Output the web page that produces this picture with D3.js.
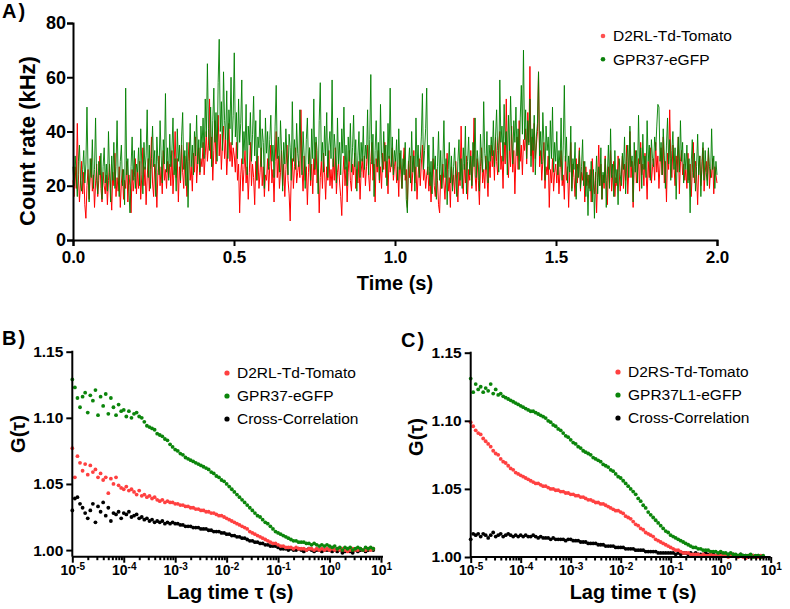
<!DOCTYPE html>
<html><head><meta charset="utf-8">
<script src="https://cdn.jsdelivr.net/npm/d3@7"></script>
<style>
body{margin:0;background:#fff;}
svg{display:block;font-family:"Liberation Sans",Arial,sans-serif;}
.axis path,.axis line{stroke:#000;stroke-width:2;}
.axis text{fill:#000;font-weight:bold;font-family:"Liberation Sans",Arial,sans-serif;}
</style></head>
<body>
<script>
// ---------- Panel A: count-rate traces (kHz), 600 samples over 0..2 s ----------
const traceTicksX = [0, 0.5, 1.0, 1.5, 2.0];
const traceTicksY = [0, 20, 40, 60, 80];
const traceSeriesNames = ["D2RL-Td-Tomato", "GPR37-eGFP"];
const gprTrace = [
27,20,31,24,16,29,35,22,18,26,33,21,28,49,25,14,30,23,37,19,26,45,22,17,29,24,32,15,27,34,
21,28,18,40,25,14,31,22,36,19,27,44,23,16,29,35,20,26,13,56,24,30,18,10,27,38,22,33,19,28,
25,34,20,41,28,17,36,26,31,48,23,35,19,30,42,27,33,16,38,29,24,44,31,21,37,28,54,25,34,22,
39,27,33,45,24,30,18,41,29,35,22,38,47,26,33,20,36,12,30,43,27,35,24,40,31,46,28,37,25,42,
34,45,30,52,38,65,41,33,49,27,44,56,36,47,29,58,74,40,51,33,62,44,37,55,30,48,41,60,35,46,
69,38,47,30,52,36,43,59,28,40,33,50,24,42,35,47,29,39,53,31,44,22,38,34,48,27,41,36,19,45,
32,40,26,37,46,29,35,23,42,57,30,38,25,44,33,18,36,28,41,31,24,39,34,22,51,29,37,26,43,32,
27,48,35,24,40,31,19,37,45,28,34,22,41,30,52,26,38,33,17,44,58,29,36,25,42,31,47,23,35,40,
30,59,27,39,33,21,45,28,36,24,41,32,49,26,35,20,38,29,43,25,34,46,27,37,18,31,40,23,36,29,
42,26,35,30,48,24,37,61,28,39,16,33,44,27,36,22,50,31,25,40,29,35,20,43,30,56,27,38,24,33,
29,37,22,41,26,33,19,30,24,36,15,10,28,34,21,40,25,31,18,45,27,35,23,30,38,54,26,33,41,56,
24,35,20,29,17,38,26,31,15,27,40,22,33,19,28,44,23,30,13,26,36,21,31,18,27,34,24,16,29,37,
22,30,19,34,26,42,17,29,38,24,31,20,36,27,45,23,33,28,18,39,30,25,51,32,26,40,21,35,29,38,
31,44,27,38,48,33,25,59,36,42,29,50,35,40,24,46,33,53,38,28,44,36,49,31,41,26,45,57,39,70,
37,48,30,44,35,52,27,41,33,46,24,38,43,62,31,40,28,47,36,22,42,33,38,26,44,30,49,25,36,29,
40,24,33,27,45,22,35,57,29,38,21,31,25,42,18,30,26,36,15,28,23,33,19,27,37,20,29,16,25,9,
24,18,29,14,26,8,22,31,17,27,20,34,15,25,21,30,12,24,35,19,41,23,28,16,33,21,26,13,30,24,
20,32,26,38,17,29,35,23,42,27,31,14,36,25,33,21,46,28,34,19,39,26,31,23,44,29,35,22,37,30,
27,38,33,42,50,49,29,36,24,41,31,19,35,45,28,37,22,33,40,26,34,15,30,38,25,44,29,36,21,32,
26,35,21,30,10,28,37,23,32,18,27,39,24,31,16,29,36,22,33,25,20,34,27,23,41,26,31,19,29,24];
const d2rTrace = [
22,16,27,19,43,24,14,21,29,17,25,13,8,20,26,15,23,30,18,24,12,21,28,16,22,31,19,14,25,20,
17,24,13,22,28,19,11,25,20,32,16,23,18,27,12,21,26,15,22,19,29,14,24,20,10,26,18,23,30,17,
25,19,29,15,24,34,20,27,13,23,30,18,26,38,21,16,28,24,12,25,31,20,27,17,33,22,26,19,29,23,
28,20,33,17,26,40,23,30,14,27,21,35,25,19,31,24,16,29,36,22,27,18,32,25,38,21,28,34,24,30,
27,36,24,31,40,29,35,52,30,38,22,33,44,28,36,46,31,39,26,35,42,30,37,24,33,43,29,36,27,34,
31,25,36,22,28,10,24,30,18,26,33,21,27,15,25,36,20,28,23,13,29,22,31,19,25,34,20,27,16,24,
22,30,18,27,35,21,26,14,29,40,23,31,19,25,33,20,28,16,26,35,22,17,7,24,30,19,27,34,21,25,
29,23,48,26,18,31,22,27,13,25,34,20,28,17,30,24,36,21,26,10,23,29,19,32,25,15,27,22,33,20,
26,19,30,22,34,17,25,28,21,16,9,24,31,20,27,14,25,33,22,18,28,24,32,19,26,21,29,15,25,30,
23,31,20,27,35,24,18,29,36,22,28,14,30,25,33,21,27,19,32,26,36,23,29,17,31,25,28,34,22,27,
30,21,27,16,32,24,19,28,34,22,26,12,29,23,31,18,25,33,21,27,15,24,30,20,28,35,22,26,19,24,
27,18,25,14,23,30,20,16,26,22,13,10,24,19,28,21,15,25,32,18,23,12,27,20,24,17,29,21,14,25,
20,42,23,17,28,21,31,15,26,22,33,19,27,45,24,18,30,22,13,27,34,21,26,19,31,24,16,29,23,35,
27,33,22,38,29,24,35,40,26,31,19,36,28,52,30,23,34,27,42,25,33,17,31,38,26,44,29,35,24,37,
33,41,28,47,36,64,31,38,25,43,30,35,40,62,27,33,22,29,36,19,27,24,31,12,26,21,30,18,25,28,
21,29,17,26,33,20,24,15,31,22,27,12,25,36,19,28,23,16,30,21,26,34,18,25,22,29,14,27,20,24,
19,26,14,30,21,17,25,10,23,35,20,28,15,24,19,31,22,13,27,21,33,18,24,29,16,23,20,31,25,18,
24,31,19,28,22,35,17,26,40,23,29,12,27,33,21,25,30,18,36,24,28,20,32,26,15,29,23,34,21,27,
30,22,36,25,31,19,28,34,24,38,21,29,14,32,26,48,30,23,35,27,20,31,25,38,17,29,33,24,28,22,
26,19,32,22,28,16,25,36,21,29,24,13,27,31,20,26,34,18,25,29,22,33,19,26,23,30,17,27,24,21];
const traceTimes = d3.range(gprTrace.length).map(i => i * 2 / (gprTrace.length - 1));

// ---------- Panels B, C: correlation curves G(tau) ----------
// lag times: log10(tau) from -5 to 0.85 in 0.05 steps (118 points)
const lagExponents = d3.range(118).map(i => -5 + 0.05 * i);
const lagTimes = lagExponents.map(e => Math.pow(10, e));
const corrTicksY = [1.00, 1.05, 1.10, 1.15];
const corrTicksX = [1e-5, 1e-4, 1e-3, 1e-2, 1e-1, 1e0, 1e1];

const namesB = ["D2RL-Td-Tomato", "GPR37-eGFP", "Cross-Correlation"];
const namesC = ["D2RS-Td-Tomato", "GPR37L1-eGFP", "Cross-Correlation"];

const greenB = [
1.129,1.123,1.115,1.108,1.116,1.119,1.104,1.117,1.113,1.121,1.102,1.116,1.109,1.118,1.103,1.115,1.108,1.102,1.110,1.105,
1.106,1.101,1.105,1.100,1.103,1.104,1.101,1.100,1.097,1.094,1.093,1.092,1.091,1.088,1.087,1.086,1.084,1.083,1.080,1.078,
1.076,1.075,1.073,1.072,1.070,1.069,1.068,1.067,1.066,1.065,1.064,1.063,1.062,1.061,1.059,1.058,1.056,1.055,1.053,1.052,
1.050,1.048,1.046,1.044,1.042,1.040,1.038,1.036,1.034,1.032,1.030,1.028,1.026,1.025,1.023,1.021,1.020,1.018,1.016,1.014,
1.013,1.012,1.011,1.010,1.009,1.008,1.007,1.007,1.006,1.006,1.006,1.005,1.005,1.004,1.005,1.004,1.003,1.004,1.003,1.004,
1.003,1.002,1.003,1.001,1.002,1.000,1.002,1.001,1.002,1.000,1.001,1.002,1.001,1.000,1.002,1.001,1.002,1.001];
const redB = [
1.077,1.055,1.071,1.066,1.060,1.065,1.057,1.064,1.059,1.061,1.055,1.058,1.053,1.055,1.043,1.054,1.050,1.055,1.049,1.047,
1.046,1.048,1.045,1.046,1.044,1.042,1.045,1.041,1.042,1.040,1.041,1.039,1.040,1.038,1.037,1.038,1.036,1.037,1.036,1.036,
1.035,1.035,1.034,1.034,1.033,1.033,1.032,1.032,1.031,1.031,1.030,1.030,1.029,1.029,1.028,1.028,1.027,1.026,1.026,1.025,
1.024,1.023,1.022,1.021,1.020,1.019,1.018,1.017,1.016,1.014,1.013,1.012,1.011,1.010,1.009,1.008,1.007,1.006,1.005,1.005,
1.004,1.003,1.003,1.002,1.002,1.002,1.001,1.002,1.001,1.001,1.001,1.000,1.001,1.001,1.000,1.001,1.000,1.001,1.000,1.001,
1.000,1.001,1.000,1.001,1.000,1.001,1.000,0.999,1.000,1.001,1.000,1.000,1.001,1.000,1.000,1.001,1.000,1.001];
const crossB = [
1.030,1.039,1.040,1.035,1.032,1.028,1.024,1.030,1.035,1.021,1.033,1.029,1.036,1.026,1.032,1.022,1.028,1.027,1.029,1.024,
1.028,1.027,1.029,1.025,1.026,1.027,1.024,1.025,1.023,1.024,1.022,1.023,1.021,1.022,1.021,1.022,1.020,1.021,1.020,1.021,
1.020,1.020,1.019,1.019,1.018,1.018,1.018,1.017,1.017,1.017,1.016,1.016,1.016,1.015,1.015,1.014,1.014,1.014,1.013,1.013,
1.012,1.012,1.011,1.011,1.010,1.010,1.009,1.009,1.008,1.007,1.007,1.006,1.006,1.005,1.005,1.004,1.004,1.003,1.003,1.003,
1.002,1.001,1.001,1.001,1.000,1.001,1.000,1.000,1.001,1.000,0.999,1.000,1.001,1.000,0.999,1.000,1.000,0.999,1.000,1.000,
1.000,0.999,1.000,0.999,1.000,0.998,0.999,1.000,0.999,0.998,1.000,0.999,1.000,1.000,0.999,1.000,1.001,1.000];

const greenC = [
1.131,1.121,1.127,1.123,1.125,1.121,1.124,1.122,1.127,1.120,1.123,1.119,1.120,1.118,1.117,1.116,1.115,1.114,1.113,1.112,
1.111,1.110,1.109,1.108,1.107,1.107,1.106,1.105,1.104,1.103,1.102,1.100,1.099,1.097,1.096,1.094,1.093,1.091,1.089,1.088,
1.086,1.084,1.083,1.081,1.080,1.078,1.077,1.076,1.075,1.073,1.072,1.071,1.070,1.068,1.067,1.066,1.064,1.063,1.061,1.059,
1.058,1.056,1.054,1.052,1.050,1.048,1.046,1.043,1.041,1.038,1.036,1.033,1.031,1.029,1.027,1.025,1.023,1.021,1.019,1.018,
1.016,1.015,1.014,1.013,1.012,1.011,1.010,1.009,1.008,1.007,1.007,1.006,1.006,1.005,1.005,1.005,1.004,1.004,1.004,1.003,
1.004,1.003,1.003,1.002,1.003,1.002,1.002,1.001,1.002,1.001,1.001,1.001,1.002,1.000,1.001,1.001,1.000,1.001];
const redC = [
1.099,1.096,1.093,1.091,1.090,1.087,1.085,1.083,1.081,1.078,1.076,1.075,1.072,1.070,1.069,1.067,1.065,1.064,1.062,1.061,
1.060,1.059,1.058,1.057,1.056,1.055,1.054,1.054,1.053,1.052,1.052,1.051,1.050,1.050,1.049,1.049,1.048,1.048,1.047,1.047,
1.046,1.046,1.045,1.045,1.044,1.044,1.043,1.042,1.042,1.041,1.040,1.040,1.039,1.039,1.038,1.037,1.036,1.035,1.034,1.034,
1.033,1.032,1.030,1.029,1.028,1.026,1.024,1.023,1.021,1.020,1.018,1.017,1.016,1.015,1.013,1.012,1.011,1.010,1.009,1.008,
1.007,1.006,1.005,1.005,1.004,1.003,1.003,1.003,1.002,1.002,1.002,1.002,1.001,1.002,1.001,1.001,1.002,1.001,1.001,1.002,
1.001,1.002,1.001,1.000,1.001,1.002,1.001,1.000,1.001,1.000,0.999,1.001,1.000,1.001,1.000,1.000,1.001,1.000];
const crossC = [
1.013,1.017,1.016,1.017,1.015,1.017,1.016,1.014,1.016,1.018,1.015,1.016,1.017,1.015,1.016,1.017,1.016,1.015,1.016,1.015,
1.016,1.015,1.016,1.015,1.015,1.016,1.015,1.014,1.015,1.014,1.014,1.014,1.013,1.014,1.013,1.013,1.013,1.013,1.012,1.013,
1.013,1.012,1.012,1.012,1.011,1.011,1.011,1.010,1.010,1.010,1.010,1.009,1.009,1.009,1.008,1.008,1.008,1.008,1.007,1.007,
1.007,1.007,1.006,1.006,1.006,1.006,1.005,1.005,1.005,1.005,1.004,1.004,1.004,1.004,1.004,1.003,1.003,1.003,1.003,1.003,
1.003,1.003,1.002,1.003,1.002,1.003,1.003,1.002,1.003,1.002,1.003,1.002,1.002,1.002,1.003,1.002,1.002,1.002,1.001,1.002,
1.002,1.001,1.002,1.002,1.001,1.002,1.001,1.001,1.002,1.001,1.001,1.000,1.001,1.001,1.000,1.001,1.000,1.000];

const RED_LINE = "#ff0000", GREEN_LINE = "#008000";
const RED_DOT = "#ff4040", GREEN_DOT = "#0b850b", BLACK_DOT = "#000000";

// ---------- drawing ----------
const svg = d3.select("body").append("svg").attr("width", 790).attr("height", 609);
svg.append("rect").attr("width", 790).attr("height", 609).attr("fill", "#fff");

function panelLabel(txt, x, y) {
  svg.append("text").attr("x", x).attr("y", y).text(txt)
    .attr("font-size", 20).attr("font-weight", "bold").attr("letter-spacing", 2);
}

// Panel A
const xA = d3.scaleLinear().domain([0, 2]).range([73, 717]);
const yA = d3.scaleLinear().domain([0, 80]).range([240, 23]);
const lineA = d3.line().x((d, i) => xA(traceTimes[i])).y(d => yA(d));
svg.append("path").datum(d2rTrace).attr("d", lineA).attr("fill", "none")
  .attr("stroke", RED_LINE).attr("stroke-width", 1).attr("stroke-linejoin", "bevel");
svg.append("path").datum(gprTrace).attr("d", lineA).attr("fill", "none")
  .attr("stroke", GREEN_LINE).attr("stroke-width", 1).attr("stroke-linejoin", "bevel").attr("stroke-opacity", 0.9);

const axA_x = svg.append("g").attr("class", "axis").attr("transform", "translate(0,240)")
  .call(d3.axisBottom(xA).tickValues(traceTicksX).tickFormat(d3.format(".1f")).tickSizeOuter(0).tickSize(6).tickPadding(5));
axA_x.selectAll("text").attr("font-size", 17);
const axA_y = svg.append("g").attr("class", "axis").attr("transform", "translate(73,0)")
  .call(d3.axisLeft(yA).tickValues(traceTicksY).tickSizeOuter(0).tickSize(6).tickPadding(1));
axA_y.selectAll("text").attr("font-size", 18);

svg.append("text").attr("transform", "translate(35,141) rotate(-90)").attr("text-anchor", "middle")
  .attr("font-size", 22).attr("font-weight", "bold").text("Count rate (kHz)");
svg.append("text").attr("x", 395).attr("y", 290).attr("text-anchor", "middle")
  .attr("font-size", 20).attr("font-weight", "bold").text("Time (s)");
panelLabel("A)", 2, 18);

const legA = [[traceSeriesNames[0], "#ff5050"], [traceSeriesNames[1], "#0a800a"]];
legA.forEach((d, i) => {
  const y = 36 + i * 23.3;
  svg.append("circle").attr("cx", 603).attr("cy", y).attr("r", 2.3).attr("fill", d[1]);
  svg.append("text").attr("x", 613).attr("y", y).attr("dy", "0.35em").attr("font-size", 15.5).text(d[0]);
});

// Correlation panels
function corrPanel(opt) {
  const x = d3.scaleLog().domain([1e-5, 10]).range([opt.x0, opt.x1]);
  const y = d3.scaleLinear().domain(opt.ydom).range([opt.yb, opt.yt]);
  const series = [[opt.red, RED_DOT], [opt.green, GREEN_DOT], [opt.cross, BLACK_DOT]];
  [series[2], series[0], series[1]].forEach(s => {
    svg.append("g").selectAll("circle").data(s[0]).join("circle")
      .attr("cx", (d, i) => x(lagTimes[i])).attr("cy", d => y(d)).attr("r", 1.9).attr("fill", s[1]);
  });
  const minor = [];
  for (let e = -5; e < 1; e++) for (let m = 2; m <= 9; m++) minor.push(m * Math.pow(10, e));
  svg.append("g").attr("class", "axis").attr("transform", `translate(0,${opt.yb})`)
    .call(d3.axisBottom(x).tickValues(minor).tickFormat("").tickSize(3.5).tickSizeOuter(0))
    .select(".domain").remove();
  const ax = svg.append("g").attr("class", "axis").attr("transform", `translate(0,${opt.yb})`)
    .call(d3.axisBottom(x).tickValues(corrTicksX).tickSize(6).tickSizeOuter(0).tickPadding(5).tickFormat(""));
  ax.select(".domain").attr("d", `M${opt.x0},0H${opt.x1 + opt.ext}`);
  ax.selectAll(".tick").each(function(d) {
    const t = d3.select(this).append("text").attr("y", 8).attr("dy", "0.71em")
      .attr("text-anchor", "middle").attr("font-size", 14);
    t.append("tspan").text("10");
    t.append("tspan").attr("dy", "-0.45em").attr("font-size", 10).text(String(Math.round(Math.log10(d))));
  });
  const ay = svg.append("g").attr("class", "axis").attr("transform", `translate(${opt.x0},0)`)
    .call(d3.axisLeft(y).tickValues(corrTicksY).tickFormat(d3.format(".2f")).tickSize(6).tickSizeOuter(0).tickPadding(3));
  ay.selectAll("text").attr("font-size", 15.5);
  ay.select(".domain").attr("d", `M0,${opt.yt - 1}V${opt.yb}`);

  svg.append("text").attr("transform", `translate(${opt.gx},${opt.gy}) rotate(-90)`).attr("text-anchor", "middle")
    .attr("font-size", 20).attr("font-weight", "bold").text("G(τ)");
  svg.append("text").attr("x", opt.tx).attr("y", 599).attr("text-anchor", "middle")
    .attr("font-size", 20).attr("font-weight", "bold").text("Lag time τ (s)");
  panelLabel(opt.label, opt.lx, opt.ly);

  const legCols = [RED_DOT, GREEN_DOT, BLACK_DOT];
  opt.names.forEach((n, i) => {
    const yy = opt.legY + i * 23;
    svg.append("circle").attr("cx", opt.legX).attr("cy", yy).attr("r", 2.6).attr("fill", legCols[i]);
    svg.append("text").attr("x", opt.legX + 10).attr("y", yy).attr("dy", "0.35em").attr("font-size", 15.5).text(n);
  });
}

corrPanel({x0: 72.3, x1: 381, ext: 2, yb: 556.7, yt: 351.7, ydom: [0.995, 1.15],
  red: redB, green: greenB, cross: crossB, names: namesB,
  gx: 25, gy: 434, tx: 230, label: "B)", lx: 2, ly: 345, legX: 227, legY: 373});
corrPanel({x0: 470.7, x1: 770.7, ext: 0, yb: 557, yt: 352.7, ydom: [1.00, 1.15],
  red: redC, green: greenC, cross: crossC, names: namesC,
  gx: 423, gy: 437, tx: 633, label: "C)", lx: 401, ly: 347, legX: 618, legY: 372});
</script>
</body></html>
